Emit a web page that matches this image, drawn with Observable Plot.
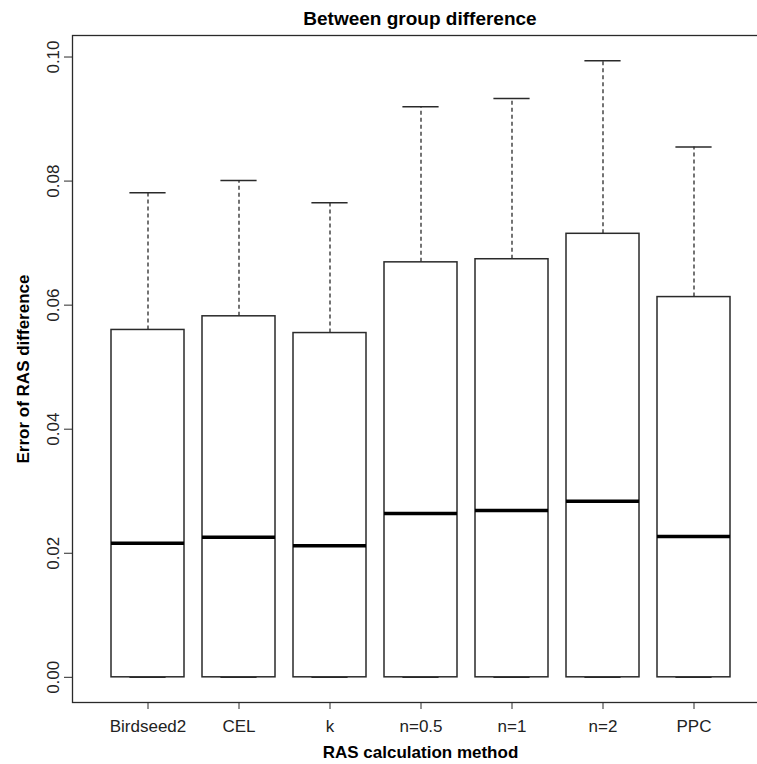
<!DOCTYPE html>
<html><head><meta charset="utf-8">
<script src="https://cdn.jsdelivr.net/npm/d3@7"></script>
<script src="https://cdn.jsdelivr.net/npm/@observablehq/plot@0.6"></script>
<style>
body{margin:0;background:#fff;}
#wrap{position:relative;width:757px;height:764px;overflow:hidden;font-family:"Liberation Sans",Arial,sans-serif;background:#fff;}
#title{position:absolute;left:72px;width:696px;top:9px;text-align:center;font-weight:bold;font-size:19px;line-height:19px;color:#000;}
#chart{position:absolute;left:0;top:0;}
</style></head><body>
<div id="wrap"><div id="chart"></div><div id="title"></div></div>
<script>
const titleText = "Between group difference";
const xLabel = "RAS calculation method";
const yLabel = "Error of RAS difference";
const methods = ["Birdseed2", "CEL", "k", "n=0.5", "n=1", "n=2", "PPC"];
const lowerWhisker = [0, 0, 0, 0, 0, 0, 0];
const q1 = [0, 0, 0, 0, 0, 0, 0];
const medians = [0.0216, 0.0226, 0.0212, 0.0264, 0.0269, 0.0284, 0.0227];
const q3 = [0.0560, 0.0582, 0.0555, 0.0669, 0.0674, 0.0715, 0.0613];
const upperWhisker = [0.0781, 0.0801, 0.0765, 0.0920, 0.0933, 0.0994, 0.0855];
const yTicks = [0, 0.02, 0.04, 0.06, 0.08, 0.10];

document.getElementById("title").textContent = titleText;

const data = methods.map((m, i) => ({
  method: m, lo: lowerWhisker[i], q1: q1[i], med: medians[i], q3: q3[i], hi: upperWhisker[i]
}));

const line = "#2a2a2a";
const plot = Plot.plot({
  width: 757, height: 764,
  marginLeft: 72, marginRight: -11, marginTop: 35, marginBottom: 62,
  style: {fontFamily: "Liberation Sans, Arial, sans-serif", fontSize: "17px", background: "white", overflow: "hidden", color: "#222"},
  x: {type: "band", domain: methods, paddingInner: 0.2, paddingOuter: 0.383, axis: null},
  y: {domain: [-0.00406, 0.10347], axis: null},
  marks: [
    Plot.frame({stroke: line, strokeWidth: 1.3}),
    Plot.ruleX(data, {x: "method", y1: "q3", y2: "hi", stroke: line, strokeWidth: 1.3, strokeDasharray: "4,3"}),
    Plot.ruleX(data, {x: "method", y1: "lo", y2: "q1", stroke: line, strokeWidth: 1.3, strokeDasharray: "4,3"}),
    Plot.tickY(data, {x: "method", y: "hi", inset: 18.4, stroke: line, strokeWidth: 1.5}),
    Plot.tickY(data, {x: "method", y: "lo", inset: 18.4, stroke: line, strokeWidth: 1.5}),
    Plot.barY(data, {x: "method", y1: "q1", y2: "q3", fill: "white", stroke: line, strokeWidth: 1.5}),
    Plot.tickY(data, {x: "method", y: "med", stroke: "#000", strokeWidth: 3.5}),
    Plot.axisX({tickSize: 7, tickPadding: 10, fontSize: 17, stroke: line, fill: "#222", label: null}),
    Plot.axisY(yTicks, {tickSize: 8, stroke: line, fill: "none", label: null}),
    Plot.text(yTicks, {y: d => d, frameAnchor: "left", dx: -14, rotate: -90, text: d => d.toFixed(2), lineAnchor: "bottom", textAnchor: "middle", fontSize: 17, fill: "#222"}),
    Plot.text([xLabel], {frameAnchor: "bottom", dy: 55, lineAnchor: "bottom", textAnchor: "middle", text: d => d, fontWeight: "bold", fontSize: 17, fill: "#000"}),
    Plot.text([yLabel], {frameAnchor: "left", dx: -44, rotate: -90, lineAnchor: "bottom", textAnchor: "middle", text: d => d, fontWeight: "bold", fontSize: 17, fill: "#000"})
  ]
});
document.getElementById("chart").appendChild(plot);
</script>
</body></html>
